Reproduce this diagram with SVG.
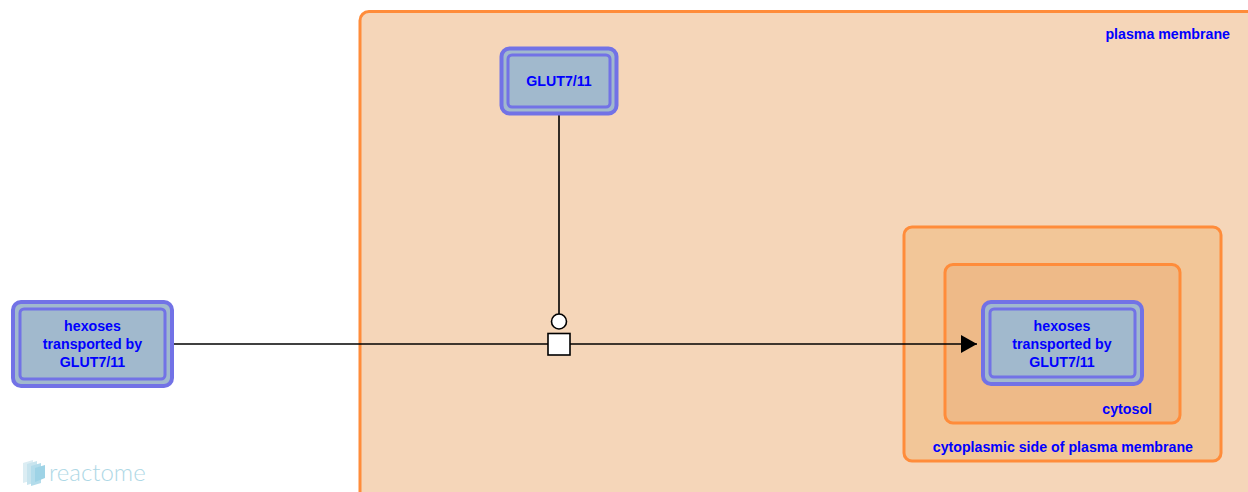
<svg xmlns="http://www.w3.org/2000/svg" width="1248" height="492" viewBox="0 0 1248 492">
<style>
.comp{stroke:#FF8C3A;stroke-width:3}
.lbl{font-family:"Liberation Sans",Arial,sans-serif;font-weight:bold;font-size:14.2px;fill:#0000FF}
.outer{fill:#A1B9CD;stroke:#7272E6;stroke-width:4}
.inner{fill:none;stroke:#7272E6;stroke-width:3}
.edge{stroke:#000;stroke-width:1.6;fill:none}
</style>
<defs>
<marker id="arrow" markerWidth="16" markerHeight="18" refX="16" refY="9" orient="auto" markerUnits="userSpaceOnUse">
<path d="M0,0 L16,9 L0,18 Z" fill="#000"/>
</marker>
</defs>
<rect width="1248" height="492" fill="#FFFFFF"/>
<g id="compartments">
<g id="plasma-membrane">
<rect class="comp" x="360" y="11.5" width="900" height="500" rx="9" fill="#F5D6B9"/>
<text class="lbl" x="1230" y="39" text-anchor="end">plasma membrane</text>
</g>
<g id="cytoplasmic-side">
<rect class="comp" x="904" y="227" width="317" height="234" rx="8" fill="#F2C698"/>
<text class="lbl" x="1193" y="452" text-anchor="end">cytoplasmic side of plasma membrane</text>
</g>
<g id="cytosol">
<rect class="comp" x="945" y="264.5" width="235" height="158.5" rx="8" fill="#EEBA88"/>
<text class="lbl" x="1152" y="414" text-anchor="end">cytosol</text>
</g>
</g>
<g id="connectors">
<line class="edge" x1="173" y1="344" x2="548" y2="344"/>
<line class="edge" x1="570" y1="344" x2="977" y2="344" marker-end="url(#arrow)"/>
<line class="edge" x1="559" y1="114" x2="559" y2="314"/>
<circle cx="559" cy="321.5" r="7.5" fill="#FFFFFF" stroke="#000" stroke-width="1.6"/>
<rect x="548" y="333.5" width="22" height="21.5" fill="#FFFFFF" stroke="#000" stroke-width="1.6"/>
</g>
<g id="node-hexoses-left">
<rect class="outer" x="13" y="302" width="159" height="84" rx="8"/>
<rect class="inner" x="20" y="309" width="145" height="70" rx="4"/>
<text class="lbl" x="92.5" y="331" text-anchor="middle">hexoses</text>
<text class="lbl" x="92.5" y="349" text-anchor="middle">transported by</text>
<text class="lbl" x="92.5" y="367" text-anchor="middle">GLUT7/11</text>
</g>
<g id="node-glut">
<rect class="outer" x="501.5" y="48.5" width="115" height="65" rx="8"/>
<rect class="inner" x="508" y="55" width="102" height="52" rx="4"/>
<text class="lbl" x="559" y="86" text-anchor="middle">GLUT7/11</text>
</g>
<g id="node-hexoses-right">
<rect class="outer" x="983" y="302" width="159" height="82" rx="8"/>
<rect class="inner" x="990" y="309" width="145" height="68" rx="4"/>
<text class="lbl" x="1062" y="331" text-anchor="middle">hexoses</text>
<text class="lbl" x="1062" y="349" text-anchor="middle">transported by</text>
<text class="lbl" x="1062" y="367" text-anchor="middle">GLUT7/11</text>
</g>
<g id="logo" opacity="0.85">
<path d="M23,463 L33,460 L33,480 L23,483 Z" fill="#D6EAF2"/>
<path d="M27,464 L37,461 L37,482 L27,485 Z" fill="#BFE0EC"/>
<path d="M31,466 L41,463 L41,483 L31,486 Z" fill="#A6D6E8"/>
<path d="M35,468 L45,465 L45,478 L35,482 Z" fill="#8ECCE2"/>
<text x="49" y="481" font-family="Lato,'Liberation Sans',sans-serif" font-size="24" font-weight="300" fill="#9FD2E2">reactome</text>
</g>
</svg>
